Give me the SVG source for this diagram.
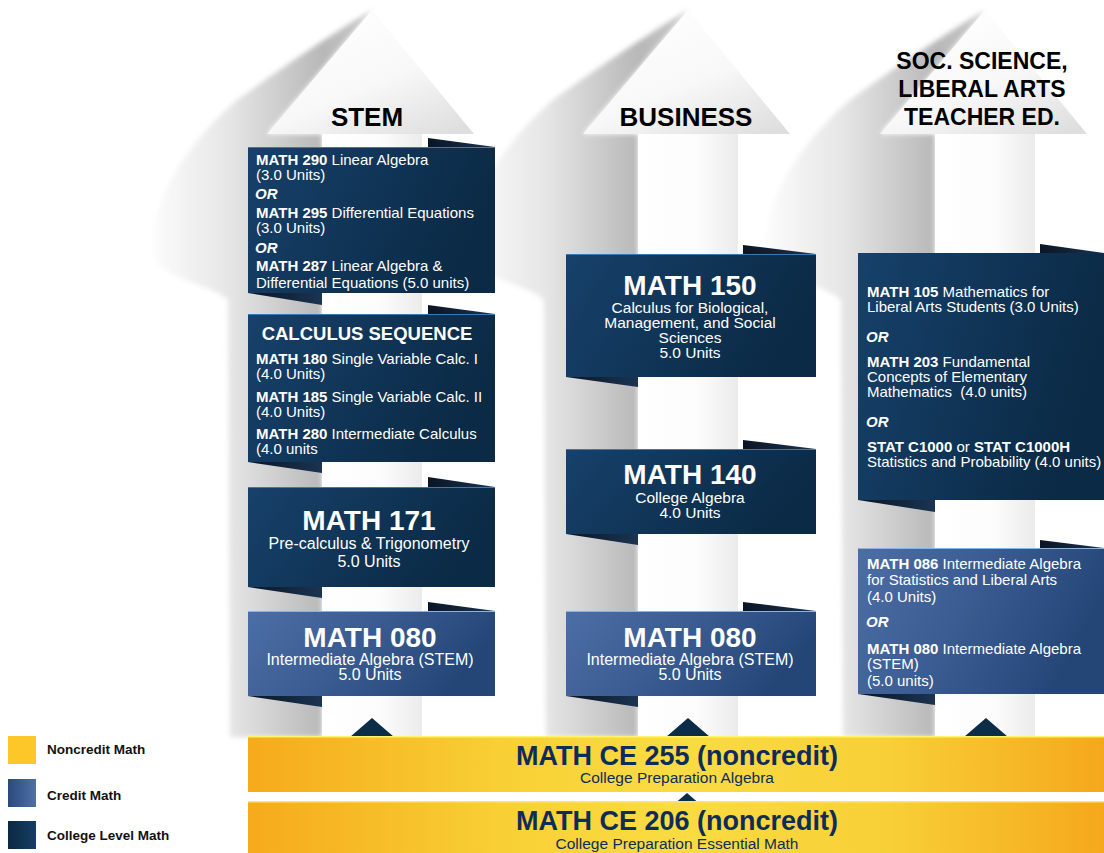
<svg xmlns="http://www.w3.org/2000/svg" width="1104" height="853" viewBox="0 0 1104 853">
<style>
.t{font-family:"Liberation Sans",Arial,sans-serif;fill:#fff;font-size:15px}
.b{font-weight:bold}
.or{font-weight:bold;font-style:italic}
.cs{font-size:18.5px;font-weight:bold;text-anchor:middle}
.ttl{font-family:"Liberation Sans",Arial,sans-serif;fill:#fff;font-size:28px;font-weight:bold;text-anchor:middle}
.sub{font-family:"Liberation Sans",Arial,sans-serif;fill:#fff;font-size:16px;text-anchor:middle}
.sub2{font-size:15.5px}
.hd{font-family:"Liberation Sans",Arial,sans-serif;fill:#000;font-weight:bold;text-anchor:middle}
.ytl{font-family:"Liberation Sans",Arial,sans-serif;fill:#0e2c5a;font-size:27px;font-weight:bold;text-anchor:middle}
.ysub{font-family:"Liberation Sans",Arial,sans-serif;fill:#0e2c5a;font-size:15.5px;text-anchor:middle}
.lg{font-family:"Liberation Sans",Arial,sans-serif;fill:#111;font-size:13.5px;font-weight:bold}
.college{fill:url(#gCollege)}
.credit{fill:url(#gCredit)}
.tab{fill:url(#gTab)}
.tri{fill:#0c2d48}
</style>
<defs>
<linearGradient id="gShadow" x1="0" y1="0" x2="1" y2="0">
<stop offset="0" stop-color="#fcfcfc"/>
<stop offset="0.36" stop-color="#e5e5e5"/>
<stop offset="0.775" stop-color="#b8b8b8"/>
<stop offset="1" stop-color="#c8c8c8"/>
</linearGradient>
<linearGradient id="gShaft" x1="0" y1="0" x2="1" y2="0">
<stop offset="0" stop-color="#ffffff"/>
<stop offset="0.6" stop-color="#fcfcfc"/>
<stop offset="1" stop-color="#ebebeb"/>
</linearGradient>
<linearGradient id="gHead" x1="0.2" y1="0" x2="0.9" y2="1">
<stop offset="0" stop-color="#ffffff"/>
<stop offset="0.55" stop-color="#f8f8f8"/>
<stop offset="1" stop-color="#dedede"/>
</linearGradient>
<linearGradient id="gCollege" x1="0" y1="0" x2="1" y2="0.3">
<stop offset="0" stop-color="#17416b"/>
<stop offset="0.6" stop-color="#0f3354"/>
<stop offset="1" stop-color="#0b2a45"/>
</linearGradient>
<linearGradient id="gCredit" x1="0" y1="0" x2="1" y2="0.3">
<stop offset="0" stop-color="#4c6ea6"/>
<stop offset="0.5" stop-color="#3b5c92"/>
<stop offset="1" stop-color="#244677"/>
</linearGradient>
<linearGradient id="gTab" x1="0" y1="0" x2="1" y2="0">
<stop offset="0" stop-color="#0a1524"/>
<stop offset="1" stop-color="#1b3452"/>
</linearGradient>
<linearGradient id="gYellow" x1="0" y1="0" x2="1" y2="0">
<stop offset="0" stop-color="#f6aa1c"/>
<stop offset="0.3" stop-color="#f8d035"/>
<stop offset="0.5" stop-color="#f9dc42"/>
<stop offset="0.75" stop-color="#f8cf36"/>
<stop offset="1" stop-color="#f5a81b"/>
</linearGradient>
<linearGradient id="gLegCredit" x1="0" y1="0" x2="1" y2="0">
<stop offset="0" stop-color="#2a4a7b"/>
<stop offset="1" stop-color="#4e70a7"/>
</linearGradient>
<linearGradient id="gLegCollege" x1="0" y1="0" x2="1" y2="0">
<stop offset="0" stop-color="#0b2a42"/>
<stop offset="1" stop-color="#173d64"/>
</linearGradient>
<filter id="soft" x="-20%" y="-5%" width="140%" height="110%">
<feGaussianBlur stdDeviation="2.5"/>
</filter>
<path id="shadowShape" d="M50,10 C0,40 -50,75 -85,100 C-120,130 -150,170 -162,205 C-172,235 -172,258 -160,268 C-140,282 -105,288 -94,300 L-92,737 L0,737 L0,134 L-55,134 Z"/>
<g id="arrowShape">
<rect x="0" y="133" width="100" height="604" fill="url(#gShaft)"/>
<polygon points="50,10 152,134 -55,134" fill="url(#gHead)"/>
</g>
</defs>
<rect width="1104" height="853" fill="#ffffff"/>

<g id="arrows">
<use href="#shadowShape" transform="translate(322,0)" fill="url(#gShadow)" filter="url(#soft)"/>
<use href="#shadowShape" transform="translate(638,0)" fill="url(#gShadow)" filter="url(#soft)"/>
<use href="#shadowShape" transform="translate(935,0)" fill="url(#gShadow)" filter="url(#soft)"/>
<use href="#arrowShape" transform="translate(322,0)"/>
<use href="#arrowShape" transform="translate(638,0)"/>
<use href="#arrowShape" transform="translate(935,0)"/>
</g>

<g id="headings">
<text class="hd" x="367" y="126" font-size="26">STEM</text>
<text class="hd" x="686" y="126" font-size="26">BUSINESS</text>
<text class="hd" x="982" y="69" font-size="23">SOC. SCIENCE,</text>
<text class="hd" x="982" y="97" font-size="23">LIBERAL ARTS</text>
<text class="hd" x="982" y="125" font-size="23">TEACHER ED.</text>
</g>

<g id="connectors">
<polygon class="tri" points="372,718 394,737 350,737"/>
<polygon class="tri" points="688,718 710,737 666,737"/>
<polygon class="tri" points="986,718 1008,737 964,737"/>
<polygon class="tri" points="687,793 709,812 665,812"/>
</g>

<g id="stem-math290">
<polygon class="tab" points="428,138 495,147 428,147"/>
<polygon class="tab" points="248,293 322,293 322,305"/>
<rect class="college" x="248" y="147" width="247" height="146"/>
<line x1="248" y1="147.5" x2="495" y2="147.5" stroke="#3e78b0" stroke-width="1.2"/>
<text class="t" x="256" y="165"><tspan class="b">MATH 290</tspan> Linear Algebra</text>
<text class="t" x="256" y="180">(3.0 Units)</text>
<text class="t or" x="255" y="199">OR</text>
<text class="t" x="256" y="218"><tspan class="b">MATH 295</tspan> Differential Equations</text>
<text class="t" x="256" y="233">(3.0 Units)</text>
<text class="t or" x="255" y="253">OR</text>
<text class="t" x="256" y="271"><tspan class="b">MATH 287</tspan> Linear Algebra &amp;</text>
<text class="t" x="256" y="288">Differential Equations (5.0 units)</text>
</g>

<g id="stem-calculus">
<polygon class="tab" points="428,305 495,314 428,314"/>
<polygon class="tab" points="248,462 322,462 322,473"/>
<rect class="college" x="248" y="314" width="247" height="148"/>
<line x1="248" y1="314.5" x2="495" y2="314.5" stroke="#3e78b0" stroke-width="1.2"/>
<text class="t cs" x="367" y="340">CALCULUS SEQUENCE</text>
<text class="t" x="256" y="364"><tspan class="b">MATH 180</tspan> Single Variable Calc. I</text>
<text class="t" x="256" y="379">(4.0 Units)</text>
<text class="t" x="256" y="402"><tspan class="b">MATH 185</tspan> Single Variable Calc. II</text>
<text class="t" x="256" y="417">(4.0 Units)</text>
<text class="t" x="256" y="439"><tspan class="b">MATH 280</tspan> Intermediate Calculus</text>
<text class="t" x="256" y="454">(4.0 units</text>
</g>

<g id="stem-math171">
<polygon class="tab" points="428,477 495,487 428,487"/>
<polygon class="tab" points="248,587 322,587 322,598"/>
<rect class="college" x="248" y="487" width="247" height="100"/>
<line x1="248" y1="487.5" x2="495" y2="487.5" stroke="#3e78b0" stroke-width="1.2"/>
<text class="ttl" x="369" y="530">MATH 171</text>
<text class="sub" x="369" y="549">Pre-calculus &amp; Trigonometry</text>
<text class="sub" x="369" y="567">5.0 Units</text>
</g>

<g id="stem-math080">
<polygon class="tab" points="428,602 495,611 428,611"/>
<polygon class="tab" points="248,696 322,696 322,707"/>
<rect class="credit" x="248" y="611" width="247" height="85"/>
<line x1="248" y1="611.5" x2="495" y2="611.5" stroke="#8ab3e2" stroke-width="1.2"/>
<text class="ttl" x="370" y="647">MATH 080</text>
<text class="sub" x="370" y="665">Intermediate Algebra (STEM)</text>
<text class="sub" x="370" y="680">5.0 Units</text>
</g>

<g id="bus-math150">
<polygon class="tab" points="743,245 816,254 743,254"/>
<polygon class="tab" points="566,377 638,377 638,387"/>
<rect class="college" x="566" y="254" width="250" height="123"/>
<line x1="566" y1="254.5" x2="816" y2="254.5" stroke="#3e78b0" stroke-width="1.2"/>
<text class="ttl" x="690" y="295">MATH 150</text>
<text class="sub sub2" x="690" y="313">Calculus for Biological,</text>
<text class="sub sub2" x="690" y="328">Management, and Social</text>
<text class="sub sub2" x="690" y="343">Sciences</text>
<text class="sub sub2" x="690" y="358">5.0 Units</text>
</g>

<g id="bus-math140">
<polygon class="tab" points="743,440 816,449 743,449"/>
<polygon class="tab" points="566,534 638,534 638,545"/>
<rect class="college" x="566" y="449" width="250" height="85"/>
<line x1="566" y1="449.5" x2="816" y2="449.5" stroke="#3e78b0" stroke-width="1.2"/>
<text class="ttl" x="690" y="484">MATH 140</text>
<text class="sub sub2" x="690" y="503">College Algebra</text>
<text class="sub sub2" x="690" y="518">4.0 Units</text>
</g>

<g id="bus-math080">
<polygon class="tab" points="743,602 816,611 743,611"/>
<polygon class="tab" points="566,696 638,696 638,707"/>
<rect class="credit" x="566" y="611" width="250" height="85"/>
<line x1="566" y1="611.5" x2="816" y2="611.5" stroke="#8ab3e2" stroke-width="1.2"/>
<text class="ttl" x="690" y="647">MATH 080</text>
<text class="sub" x="690" y="665">Intermediate Algebra (STEM)</text>
<text class="sub" x="690" y="680">5.0 Units</text>
</g>

<g id="soc-college">
<polygon class="tab" points="1040,244 1104,253 1040,253"/>
<polygon class="tab" points="858,500 935,500 935,512"/>
<rect class="college" x="858" y="253" width="246" height="247"/>
<text class="t" x="867" y="297"><tspan class="b">MATH 105</tspan> Mathematics for</text>
<text class="t" x="867" y="312">Liberal Arts Students (3.0 Units)</text>
<text class="t or" x="866" y="342">OR</text>
<text class="t" x="867" y="367"><tspan class="b">MATH 203</tspan> Fundamental</text>
<text class="t" x="867" y="382">Concepts of Elementary</text>
<text class="t" x="867" y="397" xml:space="preserve">Mathematics  (4.0 units)</text>
<text class="t or" x="866" y="427">OR</text>
<text class="t" x="867" y="452"><tspan class="b">STAT C1000</tspan> or <tspan class="b">STAT C1000H</tspan></text>
<text class="t" x="867" y="467">Statistics and Probability (4.0 units)</text>
</g>

<g id="soc-credit">
<polygon class="tab" points="1040,540 1104,548 1040,548"/>
<polygon class="tab" points="858,694 935,694 935,705"/>
<rect class="credit" x="858" y="548" width="246" height="146"/>
<line x1="858" y1="548.5" x2="1104" y2="548.5" stroke="#8ab3e2" stroke-width="1.2"/>
<text class="t" x="867" y="569"><tspan class="b">MATH 086</tspan> Intermediate Algebra</text>
<text class="t" x="867" y="585">for Statistics and Liberal Arts</text>
<text class="t" x="867" y="602">(4.0 Units)</text>
<text class="t or" x="866" y="627">OR</text>
<text class="t" x="867" y="654"><tspan class="b">MATH 080</tspan> Intermediate Algebra</text>
<text class="t" x="867" y="669">(STEM)</text>
<text class="t" x="867" y="686">(5.0 units)</text>
</g>

<g id="ce255">
<rect x="248" y="736" width="856" height="56" fill="url(#gYellow)"/>
<line x1="248" y1="736.8" x2="1104" y2="736.8" stroke="#fff36a" stroke-width="1.5"/>
<text class="ytl" x="677" y="765">MATH CE 255 (noncredit)</text>
<text class="ysub" x="677" y="783">College Preparation Algebra</text>
</g>

<g id="ce206">
<rect x="248" y="801" width="856" height="52" fill="url(#gYellow)"/>
<line x1="248" y1="801.8" x2="1104" y2="801.8" stroke="#fbe47a" stroke-width="1.5"/>
<text class="ytl" x="677" y="830">MATH CE 206 (noncredit)</text>
<text class="ysub" x="677" y="849">College Preparation Essential Math</text>
</g>

<g id="legend">
<rect x="8" y="736" width="28" height="28" fill="#fdc72a"/>
<text class="lg" x="47" y="754">Noncredit Math</text>
<rect x="8" y="779" width="28" height="28" fill="url(#gLegCredit)"/>
<text class="lg" x="47" y="800">Credit Math</text>
<rect x="8" y="821" width="28" height="28" fill="url(#gLegCollege)"/>
<text class="lg" x="47" y="840">College Level Math</text>
</g>
</svg>
